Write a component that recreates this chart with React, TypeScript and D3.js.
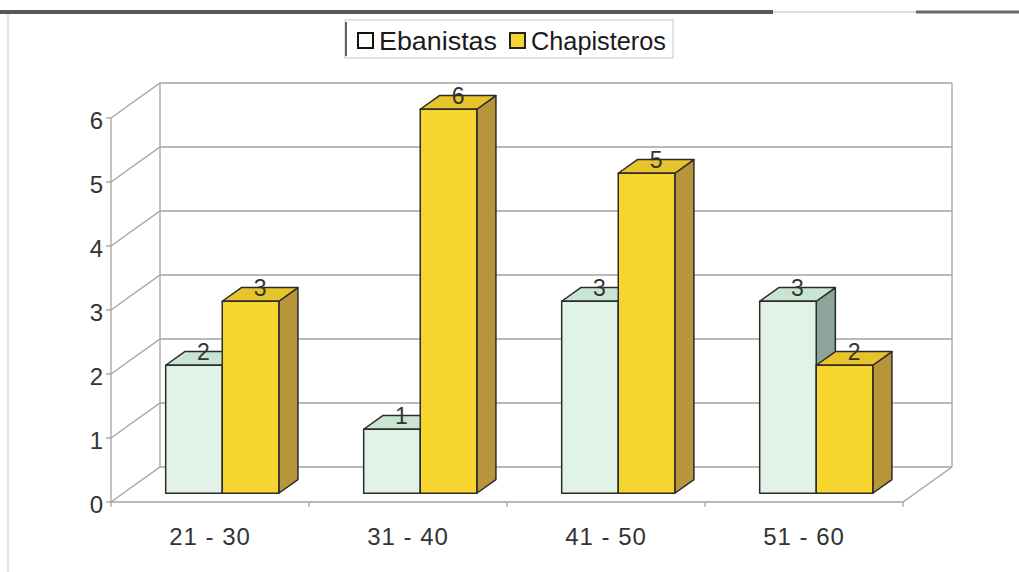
import React from "react";
import * as d3 from "d3";

// Age groups on the horizontal axis
const categories = ["21 - 30", "31 - 40", "41 - 50", "51 - 60"];
const seriesNames = ["Ebanistas", "Chapisteros"];
const ebanistas = [2, 1, 3, 3];
const chapisteros = [3, 6, 5, 2];
const yTicks = [0, 1, 2, 3, 4, 5, 6];

const W = 1019;
const H = 572;

// Pseudo-3D projection: depth 0 = front plane, 1 = back wall
const DX = 49;
const DY = 35;
const BAR_D0 = 0.25;
const BAR_D1 = 0.64;

const palette = {
  Ebanistas: { front: "#e1f3e6", top: "#c9e5d2", side: "#8ea39a" },
  Chapisteros: { front: "#f6d52f", top: "#e8c42c", side: "#b8943a" },
} as Record<string, { front: string; top: string; side: string }>;

const x0 = d3.scaleBand<string>().domain(categories).range([111, 903]).paddingInner(0).paddingOuter(0);
const x1 = d3.scaleBand<string>().domain(seriesNames).range([0, x0.bandwidth()]).paddingInner(0).paddingOuter(0.75);
const y = d3.scaleLinear().domain([0, 6]).range([502, 118]);

const proj = (x: number, v: number, d: number): [number, number] => [x + d * DX, y(v) - d * DY];
const pts = (arr: [number, number][]) => arr.map((p) => p.join(",")).join(" ");

const GRID = "#a3a3a3";
const EDGE = "#2b2b2b";
const TXT = "#333";
const FONT = "'Liberation Sans', Arial, sans-serif";

function Bar({ x, w, v, name }: { x: number; w: number; v: number; name: string }) {
  const c = palette[name];
  const fbl = proj(x, 0, BAR_D0);
  const fbr = proj(x + w, 0, BAR_D0);
  const ftl = proj(x, v, BAR_D0);
  const ftr = proj(x + w, v, BAR_D0);
  const bbr = proj(x + w, 0, BAR_D1);
  const btl = proj(x, v, BAR_D1);
  const btr = proj(x + w, v, BAR_D1);
  return (
    <g stroke={EDGE} strokeWidth={1.5} strokeLinejoin="round">
      <polygon points={pts([fbr, ftr, btr, bbr])} fill={c.side} />
      <polygon points={pts([ftl, ftr, btr, btl])} fill={c.top} />
      <polygon points={pts([fbl, fbr, ftr, ftl])} fill={c.front} />
    </g>
  );
}

export default function App() {
  const left = x0.range()[0];
  const right = x0.range()[1];
  const series = [ebanistas, chapisteros];

  const bars: React.ReactNode[] = [];
  const labels: React.ReactNode[] = [];
  categories.forEach((cat, i) => {
    seriesNames.forEach((name, s) => {
      const bx = (x0(cat) ?? 0) + (x1(name) ?? 0);
      const w = x1.bandwidth();
      const v = series[s][i];
      bars.push(<Bar key={`${cat}-${name}`} x={bx} w={w} v={v} name={name} />);
      const [lx, ly] = proj(bx + w / 2, v, (BAR_D0 + BAR_D1) / 2);
      labels.push(
        <text key={`l-${cat}-${name}`} x={lx} y={ly + 2} textAnchor="middle" fontSize={23} fill={TXT} fontFamily={FONT}>
          {v}
        </text>
      );
    });
  });

  return (
    <svg width={W} height={H} viewBox={`0 0 ${W} ${H}`} style={{ position: "absolute", left: 0, top: 0, background: "#fff", display: "block" }}>
      <rect x={0} y={0} width={W} height={H} fill="#fff" />
      {/* frame lines */}
      <line x1={0} y1={12} x2={773} y2={12} stroke="#585858" strokeWidth={4} />
      <line x1={773} y1={12} x2={916} y2={12} stroke="#d0d0d0" strokeWidth={1.5} />
      <line x1={916} y1={12} x2={W} y2={12} stroke="#6a6a6a" strokeWidth={3} />
      <line x1={8} y1={14} x2={8} y2={H} stroke="#dcdcdc" strokeWidth={1.5} />

      {/* legend */}
      <g fontFamily={FONT}>
        <rect x={345} y={20} width={328} height={38} fill="#fff" stroke="#cfcfcf" strokeWidth={1.2} />
        <line x1={346} y1={22} x2={346} y2={56} stroke="#333" strokeWidth={1.5} />
        <rect x={358} y={33} width={15} height={15} fill="#fff" stroke="#111" strokeWidth={2} />
        <text x={379} y={50} fontSize={26} fill="#1a1a1a" textLength={118} lengthAdjust="spacingAndGlyphs">{seriesNames[0]}</text>
        <rect x={510} y={33} width={15} height={15} fill="#f3d630" stroke="#222" strokeWidth={2} />
        <text x={531} y={50} fontSize={26} fill="#1a1a1a" textLength={135} lengthAdjust="spacingAndGlyphs">{seriesNames[1]}</text>
      </g>

      {/* walls and gridlines */}
      <g stroke={GRID} strokeWidth={1.3} fill="none">
        {yTicks.map((t) => {
          const a = proj(left, t, 0);
          const b = proj(left, t, 1);
          const c = proj(right, t, 1);
          return <polyline key={`g${t}`} points={pts([a, b, c])} />;
        })}
        <line x1={proj(left, 0, 1)[0]} y1={proj(left, 0, 1)[1]} x2={proj(left, 6, 1)[0]} y2={proj(left, 6, 1)[1]} />
        <line x1={proj(right, 0, 1)[0]} y1={proj(right, 0, 1)[1]} x2={proj(right, 6, 1)[0]} y2={proj(right, 6, 1)[1]} />
        <line x1={left} y1={y(0)} x2={left} y2={y(6)} />
        <polyline points={pts([proj(left, 0, 0), proj(right, 0, 0), proj(right, 0, 1)])} />
        {yTicks.map((t) => (
          <line key={`yt${t}`} x1={left - 5} y1={y(t)} x2={left} y2={y(t)} />
        ))}
        {d3.range(categories.length + 1).map((i) => {
          const xx = left + i * x0.step();
          return <line key={`xt${i}`} x1={xx} y1={y(0)} x2={xx} y2={y(0) + 5} />;
        })}
      </g>

      {/* y axis labels */}
      <g fontFamily={FONT} fontSize={24} fill={TXT} textAnchor="end">
        {yTicks.map((t) => (
          <text key={`yl${t}`} x={103} y={y(t) + 11}>{t}</text>
        ))}
      </g>

      {/* category labels */}
      <g fontFamily={FONT} fontSize={24} fill={TXT} textAnchor="middle" letterSpacing={1}>
        {categories.map((c) => (
          <text key={c} x={(x0(c) ?? 0) + x0.bandwidth() / 2} y={545}>{c}</text>
        ))}
      </g>

      {bars}
      {labels}
    </svg>
  );
}
